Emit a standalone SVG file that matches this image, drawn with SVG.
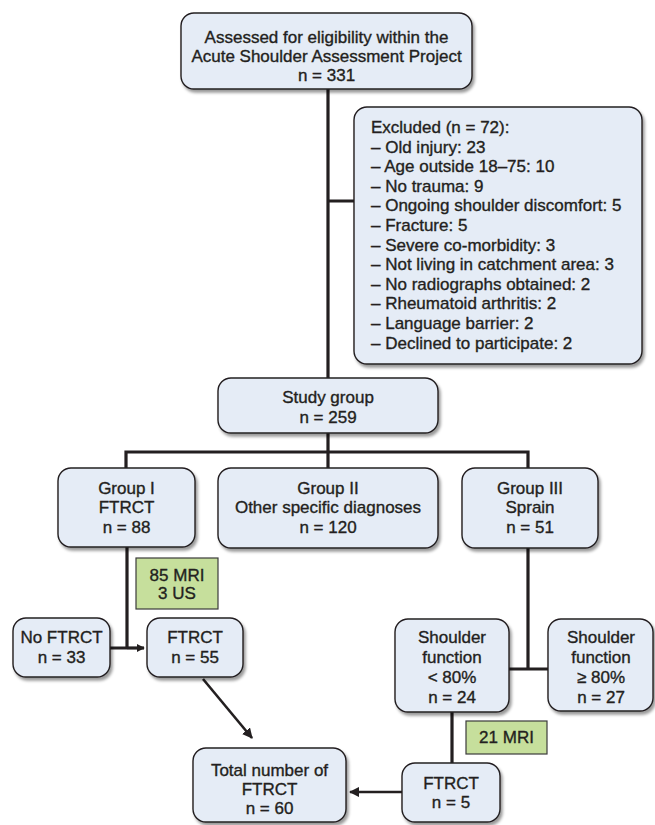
<svg xmlns="http://www.w3.org/2000/svg" width="655" height="825" viewBox="0 0 655 825">
<defs>
<filter id="sh" x="-10%" y="-10%" width="125%" height="130%">
<feDropShadow dx="2" dy="3" stdDeviation="1.8" flood-color="#000" flood-opacity="0.4"/>
</filter>
<marker id="ah" viewBox="0 0 10 10" refX="9" refY="5" markerWidth="4" markerHeight="4" orient="auto" markerUnits="strokeWidth">
<path d="M0,0 L10,5 L0,10 z" fill="#231f20"/>
</marker>
<marker id="ahs" viewBox="0 0 10 10" refX="9" refY="5" markerWidth="2.6" markerHeight="2.6" orient="auto" markerUnits="strokeWidth">
<path d="M0,0 L10,5 L0,10 z" fill="#231f20"/>
</marker>
</defs>
<style>
.box{fill:#e5ecf6;stroke:#231f20;stroke-width:1.4;filter:url(#sh)}
.grn{fill:#c6df9c;stroke:#3b3b3b;stroke-width:1.2}
text{font-family:"Liberation Sans",Arial,sans-serif;font-size:17px;fill:#231f20;stroke:#231f20;stroke-width:0.35;text-anchor:middle}
.l{text-anchor:start}
.c{fill:none;stroke:#231f20;stroke-width:3.2}
.a{fill:none;stroke:#231f20;stroke-width:2.6}
</style>
<rect width="655" height="825" fill="#fff"/>
<g id="connectors">
<path class="c" d="M328,89 V378 M328,201 H354"/>
<path class="c" d="M328,433 V468 M126,468 V452 H528 V468"/>
<path class="c" d="M127,547 V648 M110,648 H127"/>
<path class="c" d="M127,648 H144" marker-end="url(#ahs)"/>
<path class="c" d="M528,548 V669 M509,669 H548"/>
<path class="c" d="M452,712 V763"/>
<path class="a" d="M203,679 L252,738" marker-end="url(#ah)"/>
<path class="a" d="M402,792 H350" marker-end="url(#ah)"/>
</g>
<g id="n-assessed">
<rect class="box" x="181" y="13" width="291" height="76" rx="13"/>
<text x="326.5" y="43">Assessed for eligibility within the</text>
<text x="326.5" y="62">Acute Shoulder Assessment Project</text>
<text x="326.5" y="81">n = 331</text>
</g>
<g id="n-excluded">
<rect class="box" x="354" y="107" width="288" height="257" rx="13"/>
<text class="l" x="371" y="133">Excluded (n = 72):</text>
<text class="l" x="371" y="152.6">– Old injury: 23</text>
<text class="l" x="371" y="172.2">– Age outside 18–75: 10</text>
<text class="l" x="371" y="191.8">– No trauma: 9</text>
<text class="l" x="371" y="211.4">– Ongoing shoulder discomfort: 5</text>
<text class="l" x="371" y="231">– Fracture: 5</text>
<text class="l" x="371" y="250.6">– Severe co-morbidity: 3</text>
<text class="l" x="371" y="270.2">– Not living in catchment area: 3</text>
<text class="l" x="371" y="289.8">– No radiographs obtained: 2</text>
<text class="l" x="371" y="309.4">– Rheumatoid arthritis: 2</text>
<text class="l" x="371" y="329">– Language barrier: 2</text>
<text class="l" x="371" y="348.6">– Declined to participate: 2</text>
</g>
<g id="n-study">
<rect class="box" x="218" y="378" width="220" height="55" rx="13"/>
<text x="328" y="403">Study group</text>
<text x="328" y="423">n = 259</text>
</g>
<g id="n-group1">
<rect class="box" x="58" y="468" width="137" height="79" rx="13"/>
<text x="126.5" y="494">Group I</text>
<text x="126.5" y="513">FTRCT</text>
<text x="126.5" y="533">n = 88</text>
</g>
<g id="n-group2">
<rect class="box" x="218" y="468" width="220" height="80" rx="13"/>
<text x="328" y="494">Group II</text>
<text x="328" y="513">Other specific diagnoses</text>
<text x="328" y="533">n = 120</text>
</g>
<g id="n-group3">
<rect class="box" x="462" y="468" width="136" height="80" rx="13"/>
<text x="530" y="494">Group III</text>
<text x="530" y="513">Sprain</text>
<text x="530" y="533">n = 51</text>
</g>
<g id="n-imaging1">
<rect class="grn" x="136" y="558" width="82" height="51"/>
<text x="177" y="581">85 MRI</text>
<text x="177" y="599">3 US</text>
</g>
<g id="n-noftrct">
<rect class="box" x="13" y="618" width="97" height="59" rx="13"/>
<text x="61.5" y="643">No FTRCT</text>
<text x="61.5" y="663">n = 33</text>
</g>
<g id="n-ftrct55">
<rect class="box" x="147" y="618" width="96" height="59" rx="13"/>
<text x="195" y="643">FTRCT</text>
<text x="195" y="663">n = 55</text>
</g>
<g id="n-sf-low">
<rect class="box" x="395" y="619" width="114" height="93" rx="13"/>
<text x="452" y="643">Shoulder</text>
<text x="452" y="663">function</text>
<text x="452" y="683">&lt; 80%</text>
<text x="452" y="703">n = 24</text>
</g>
<g id="n-sf-high">
<rect class="box" x="548" y="619" width="105" height="92" rx="13"/>
<text x="601" y="643">Shoulder</text>
<text x="601" y="663">function</text>
<text x="601" y="683">≥ 80%</text>
<text x="601" y="703">n = 27</text>
</g>
<g id="n-imaging2">
<rect class="grn" x="466" y="721" width="81" height="33"/>
<text x="506.5" y="743">21 MRI</text>
</g>
<g id="n-ftrct5">
<rect class="box" x="402" y="763" width="98" height="59" rx="13"/>
<text x="451" y="789">FTRCT</text>
<text x="451" y="808">n = 5</text>
</g>
<g id="n-total">
<rect class="box" x="193" y="748" width="153" height="74" rx="13"/>
<text x="269.5" y="776">Total number of</text>
<text x="269.5" y="795">FTRCT</text>
<text x="269.5" y="814">n = 60</text>
</g>
</svg>
